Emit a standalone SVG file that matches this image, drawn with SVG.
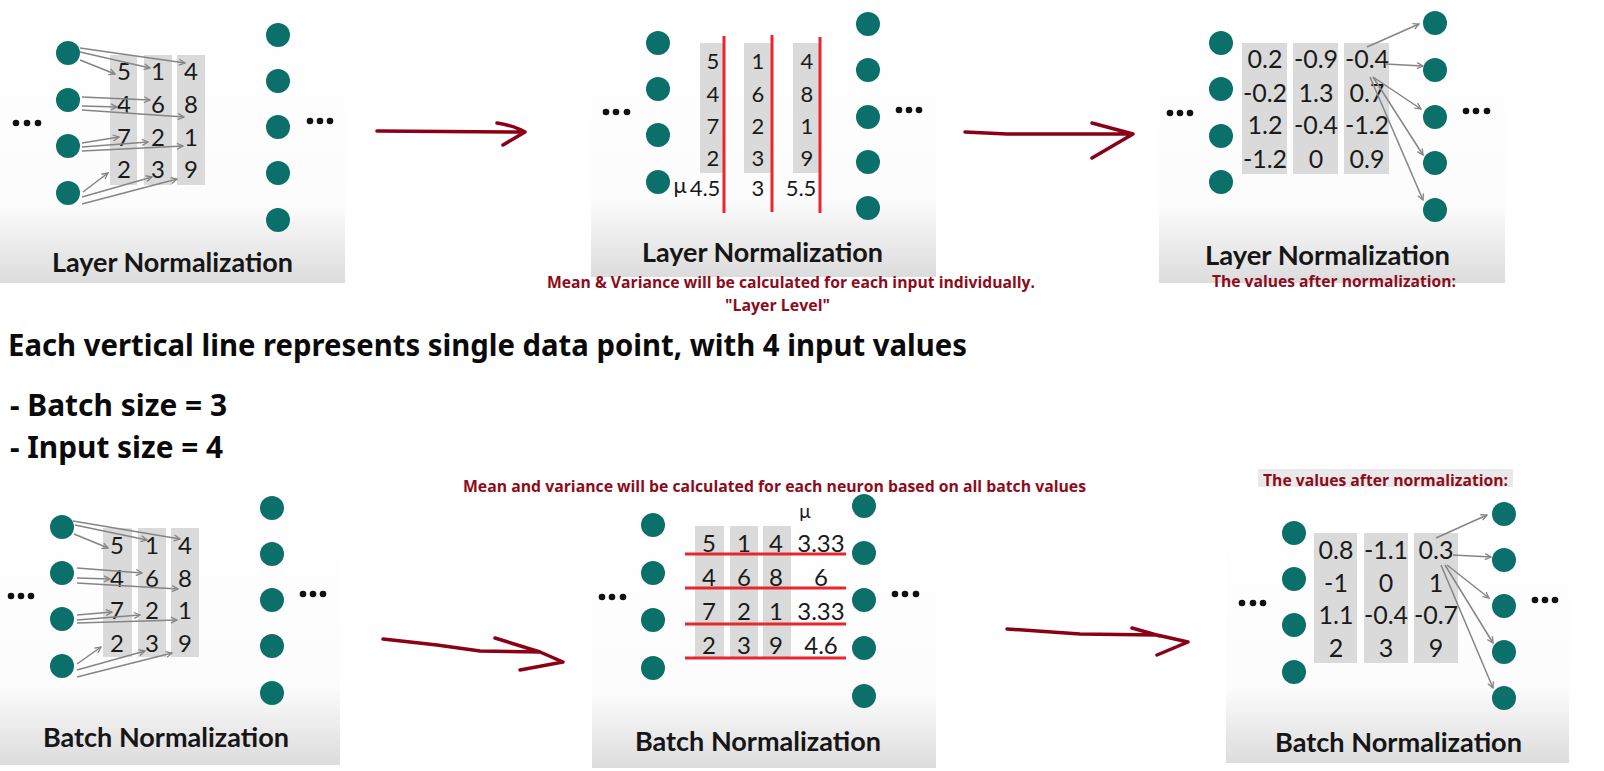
<svg xmlns="http://www.w3.org/2000/svg" width="1604" height="771" viewBox="0 0 1604 771">
<style>
.panel{fill:url(#pg)}
.node{fill:#0b6f6a}
.dot{fill:#111}
.col{fill:#dadada}
.num{font-family:Lato,"Liberation Sans",sans-serif;font-size:24px;fill:#1a1a1a;text-anchor:middle}
.lbl{font-family:Lato,"Liberation Sans",sans-serif;font-weight:bold;font-size:27px;fill:#161616}
.red{font-family:"Open Sans","Liberation Sans",sans-serif;font-weight:bold;font-size:16px;fill:#8c0c1c}
.blk{font-family:"Noto Sans","Liberation Sans",sans-serif;font-weight:bold;font-size:30px;fill:#0a0a0a}
.conn{stroke:#858585;stroke-width:1.5;fill:none;marker-end:url(#ah)}
.hand{stroke:#8b0016;stroke-width:3.5;fill:none;stroke-linecap:round;stroke-linejoin:round}
.rl{stroke:#e8262b;stroke-width:3}
</style>
<defs>
<linearGradient id="pg" x1="0" y1="0" x2="0" y2="1">
<stop offset="0" stop-color="#ffffff"/>
<stop offset="0.72" stop-color="#fcfcfc"/>
<stop offset="1" stop-color="#dcdcdc"/>
</linearGradient>
<marker id="ah" markerWidth="8" markerHeight="8" refX="7" refY="4" orient="auto" markerUnits="userSpaceOnUse">
<path d="M1,1 L7,4 L1,7" fill="none" stroke="#858585" stroke-width="1.3"/>
</marker>
</defs>
<rect width="1604" height="771" fill="#ffffff"/>

<!-- Panel 1: Layer Normalization input -->
<g id="panel-layer-1">
<rect class="panel" x="0" y="0" width="345" height="283"/>
<rect class="col" x="110" y="55" width="27" height="130"/>
<rect class="col" x="144" y="55" width="28" height="130"/>
<rect class="col" x="177" y="55" width="28" height="130"/>
<g class="num">
<text x="124" y="80">5</text><text x="124" y="113">4</text><text x="124" y="146">7</text><text x="124" y="178">2</text>
<text x="158" y="80">1</text><text x="158" y="113">6</text><text x="158" y="146">2</text><text x="158" y="178">3</text>
<text x="191" y="80">4</text><text x="191" y="113">8</text><text x="191" y="146">1</text><text x="191" y="178">9</text>
</g>
<circle class="node" cx="68" cy="53" r="12"/><circle class="node" cx="68" cy="100" r="12"/><circle class="node" cx="68" cy="146" r="12"/><circle class="node" cx="68" cy="193" r="12"/>
<circle class="node" cx="278" cy="35" r="12"/><circle class="node" cx="278" cy="81" r="12"/><circle class="node" cx="278" cy="127" r="12"/><circle class="node" cx="278" cy="173" r="12"/><circle class="node" cx="278" cy="220" r="12"/>
<circle class="dot" cx="16" cy="123" r="3.3"/><circle class="dot" cx="27" cy="123" r="3.3"/><circle class="dot" cx="38" cy="123" r="3.3"/>
<circle class="dot" cx="310" cy="121" r="3.3"/><circle class="dot" cx="320" cy="121" r="3.3"/><circle class="dot" cx="330" cy="121" r="3.3"/>
<text class="lbl" x="52" y="272" textLength="241" lengthAdjust="spacingAndGlyphs">Layer Normalization</text>
</g>

<!-- Panel 2: Layer Normalization means -->
<g id="panel-layer-2">
<rect class="panel" x="591" y="0" width="345" height="277"/>
<rect class="col" x="700" y="43" width="24" height="130"/>
<rect class="col" x="744" y="43" width="27" height="130"/>
<rect class="col" x="793" y="43" width="26" height="130"/>
<g class="num" style="font-size:22px">
<text x="713" y="69">5</text><text x="713" y="102">4</text><text x="713" y="134">7</text><text x="713" y="166">2</text>
<text x="758" y="69">1</text><text x="758" y="102">6</text><text x="758" y="134">2</text><text x="758" y="166">3</text>
<text x="807" y="69">4</text><text x="807" y="102">8</text><text x="807" y="134">1</text><text x="807" y="166">9</text>
<text x="680" y="193">μ</text><text x="705" y="196">4.5</text><text x="758" y="196">3</text><text x="801" y="196">5.5</text>
</g>
<line class="rl" x1="724" y1="36" x2="724" y2="213"/>
<line class="rl" x1="772" y1="35" x2="772" y2="212"/>
<line class="rl" x1="820" y1="37" x2="820" y2="213"/>
<circle class="node" cx="658" cy="43" r="12"/><circle class="node" cx="658" cy="89" r="12"/><circle class="node" cx="658" cy="135" r="12"/><circle class="node" cx="658" cy="182" r="12"/>
<circle class="node" cx="868" cy="24" r="12"/><circle class="node" cx="868" cy="70" r="12"/><circle class="node" cx="868" cy="117" r="12"/><circle class="node" cx="868" cy="162" r="12"/><circle class="node" cx="868" cy="208" r="12"/>
<circle class="dot" cx="606" cy="112" r="3.3"/><circle class="dot" cx="616" cy="112" r="3.3"/><circle class="dot" cx="627" cy="112" r="3.3"/>
<circle class="dot" cx="899" cy="110" r="3.3"/><circle class="dot" cx="909" cy="110" r="3.3"/><circle class="dot" cx="919" cy="110" r="3.3"/>
<text class="lbl" x="642" y="262" textLength="241" lengthAdjust="spacingAndGlyphs">Layer Normalization</text>
<text class="red" x="547" y="288" textLength="488" lengthAdjust="spacingAndGlyphs">Mean &amp; Variance will be calculated for each input individually.</text>
<text class="red" x="725" y="311" textLength="105" lengthAdjust="spacingAndGlyphs">"Layer Level"</text>
</g>

<!-- Panel 3: Layer Normalization output -->
<g id="panel-layer-3">
<rect class="panel" x="1159" y="0" width="346" height="283"/>
<rect class="col" x="1242" y="43" width="45" height="131"/>
<rect class="col" x="1293" y="43" width="45" height="131"/>
<rect class="col" x="1344" y="43" width="45" height="131"/>
<g class="num" style="font-size:25px">
<text x="1265" y="68">0.2</text><text x="1265" y="102">-0.2</text><text x="1265" y="134">1.2</text><text x="1265" y="168">-1.2</text>
<text x="1316" y="68">-0.9</text><text x="1316" y="102">1.3</text><text x="1316" y="134">-0.4</text><text x="1316" y="168">0</text>
<text x="1367" y="68">-0.4</text><text x="1367" y="102">0.7</text><text x="1367" y="134">-1.2</text><text x="1367" y="168">0.9</text>
</g>
<circle class="node" cx="1221" cy="43" r="12"/><circle class="node" cx="1221" cy="89" r="12"/><circle class="node" cx="1221" cy="136" r="12"/><circle class="node" cx="1221" cy="182" r="12"/>
<circle class="node" cx="1435" cy="23" r="12"/><circle class="node" cx="1435" cy="70" r="12"/><circle class="node" cx="1435" cy="117" r="12"/><circle class="node" cx="1435" cy="163" r="12"/><circle class="node" cx="1435" cy="210" r="12"/>
<circle class="dot" cx="1170" cy="113" r="3.3"/><circle class="dot" cx="1180" cy="113" r="3.3"/><circle class="dot" cx="1190" cy="113" r="3.3"/>
<circle class="dot" cx="1466" cy="111" r="3.3"/><circle class="dot" cx="1476" cy="111" r="3.3"/><circle class="dot" cx="1487" cy="111" r="3.3"/>
<text class="lbl" x="1205" y="265" textLength="245" lengthAdjust="spacingAndGlyphs">Layer Normalization</text>
<text class="red" x="1212" y="287" textLength="244" lengthAdjust="spacingAndGlyphs">The values after normalization:</text>
</g>

<!-- Middle explanation -->
<g id="explanation">
<text class="blk" x="8" y="356" textLength="959" lengthAdjust="spacingAndGlyphs">Each vertical line represents single data point, with 4 input values</text>
<text class="blk" x="10" y="416" textLength="217" lengthAdjust="spacingAndGlyphs">- Batch size = 3</text>
<text class="blk" x="10" y="458" textLength="213" lengthAdjust="spacingAndGlyphs">- Input size = 4</text>
</g>

<!-- Panel 5: Batch Normalization input -->
<g id="panel-batch-1">
<rect class="panel" x="0" y="480" width="340" height="285"/>
<rect class="col" x="103" y="528" width="29" height="129"/>
<rect class="col" x="138" y="528" width="28" height="129"/>
<rect class="col" x="171" y="528" width="28" height="129"/>
<g class="num">
<text x="117" y="554">5</text><text x="117" y="587">4</text><text x="117" y="619">7</text><text x="117" y="652">2</text>
<text x="152" y="554">1</text><text x="152" y="587">6</text><text x="152" y="619">2</text><text x="152" y="652">3</text>
<text x="185" y="554">4</text><text x="185" y="587">8</text><text x="185" y="619">1</text><text x="185" y="652">9</text>
</g>
<circle class="node" cx="62" cy="527" r="12"/><circle class="node" cx="62" cy="573" r="12"/><circle class="node" cx="62" cy="619" r="12"/><circle class="node" cx="62" cy="666" r="12"/>
<circle class="node" cx="272" cy="508" r="12"/><circle class="node" cx="272" cy="554" r="12"/><circle class="node" cx="272" cy="600" r="12"/><circle class="node" cx="272" cy="646" r="12"/><circle class="node" cx="272" cy="693" r="12"/>
<circle class="dot" cx="11" cy="596" r="3.3"/><circle class="dot" cx="21" cy="596" r="3.3"/><circle class="dot" cx="31" cy="596" r="3.3"/>
<circle class="dot" cx="303" cy="594" r="3.3"/><circle class="dot" cx="313" cy="594" r="3.3"/><circle class="dot" cx="323" cy="594" r="3.3"/>
<text class="lbl" x="43" y="747" textLength="246" lengthAdjust="spacingAndGlyphs">Batch Normalization</text>
</g>

<!-- Panel 4: Batch Normalization means -->
<g id="panel-batch-2">
<rect class="panel" x="592" y="500" width="344" height="268"/>
<rect class="col" x="695" y="526" width="29" height="132"/>
<rect class="col" x="730" y="526" width="28" height="132"/>
<rect class="col" x="763" y="526" width="28" height="132"/>
<g class="num" style="font-size:24px">
<text x="709" y="552">5</text><text x="744" y="552">1</text><text x="776" y="552">4</text><text x="821" y="552">3.33</text>
<text x="709" y="586">4</text><text x="744" y="586">6</text><text x="776" y="586">8</text><text x="821" y="586">6</text>
<text x="709" y="620">7</text><text x="744" y="620">2</text><text x="776" y="620">1</text><text x="821" y="620">3.33</text>
<text x="709" y="654">2</text><text x="744" y="654">3</text><text x="776" y="654">9</text><text x="821" y="654">4.6</text>
</g>
<text class="num" x="805" y="518" style="font-size:19px">μ</text>
<line class="rl" x1="685" y1="554" x2="846" y2="554"/>
<line class="rl" x1="685" y1="588" x2="846" y2="588"/>
<line class="rl" x1="685" y1="624" x2="846" y2="624"/>
<line class="rl" x1="685" y1="658" x2="846" y2="658"/>
<circle class="node" cx="653" cy="525" r="12"/><circle class="node" cx="653" cy="573" r="12"/><circle class="node" cx="653" cy="620" r="12"/><circle class="node" cx="653" cy="668" r="12"/>
<circle class="node" cx="864" cy="506" r="12"/><circle class="node" cx="864" cy="553" r="12"/><circle class="node" cx="864" cy="600" r="12"/><circle class="node" cx="864" cy="648" r="12"/><circle class="node" cx="864" cy="696" r="12"/>
<circle class="dot" cx="602" cy="597" r="3.3"/><circle class="dot" cx="612" cy="597" r="3.3"/><circle class="dot" cx="623" cy="597" r="3.3"/>
<circle class="dot" cx="895" cy="594" r="3.3"/><circle class="dot" cx="905" cy="594" r="3.3"/><circle class="dot" cx="916" cy="594" r="3.3"/>
<text class="lbl" x="635" y="751" textLength="246" lengthAdjust="spacingAndGlyphs">Batch Normalization</text>
<text class="red" x="463" y="492" textLength="623" lengthAdjust="spacingAndGlyphs">Mean and variance will be calculated for each neuron based on all batch values</text>
</g>

<!-- Panel 6: Batch Normalization output -->
<g id="panel-batch-3">
<rect class="panel" x="1226" y="493" width="343" height="270"/>
<rect x="1258" y="469" width="255" height="18" fill="#e9e9e9"/>
<text class="red" x="1263" y="486" textLength="245" lengthAdjust="spacingAndGlyphs">The values after normalization:</text>
<rect class="col" x="1314" y="533" width="43" height="130"/>
<rect class="col" x="1364" y="533" width="44" height="130"/>
<rect class="col" x="1414" y="533" width="44" height="130"/>
<g class="num" style="font-size:25px">
<text x="1336" y="559">0.8</text><text x="1336" y="592">-1</text><text x="1336" y="624">1.1</text><text x="1336" y="657">2</text>
<text x="1386" y="559">-1.1</text><text x="1386" y="592">0</text><text x="1386" y="624">-0.4</text><text x="1386" y="657">3</text>
<text x="1436" y="559">0.3</text><text x="1436" y="592">1</text><text x="1436" y="624">-0.7</text><text x="1436" y="657">9</text>
</g>
<circle class="node" cx="1294" cy="533" r="12"/><circle class="node" cx="1294" cy="579" r="12"/><circle class="node" cx="1294" cy="625" r="12"/><circle class="node" cx="1294" cy="672" r="12"/>
<circle class="node" cx="1504" cy="514" r="12"/><circle class="node" cx="1504" cy="560" r="12"/><circle class="node" cx="1504" cy="606" r="12"/><circle class="node" cx="1504" cy="652" r="12"/><circle class="node" cx="1504" cy="698" r="12"/>
<circle class="dot" cx="1242" cy="603" r="3.3"/><circle class="dot" cx="1253" cy="603" r="3.3"/><circle class="dot" cx="1263" cy="603" r="3.3"/>
<circle class="dot" cx="1535" cy="600" r="3.3"/><circle class="dot" cx="1545" cy="600" r="3.3"/><circle class="dot" cx="1555" cy="600" r="3.3"/>
<text class="lbl" x="1275" y="752" textLength="247" lengthAdjust="spacingAndGlyphs">Batch Normalization</text>
</g>

<!-- Connectors -->
<g id="connectors">
<g id="conn-layer-in">
<line class="conn" x1="80" y1="48" x2="185" y2="63"/>
<line class="conn" x1="80" y1="52" x2="150" y2="68"/>
<line class="conn" x1="80" y1="60" x2="115" y2="74"/>
<line class="conn" x1="82" y1="97" x2="150" y2="100"/>
<line class="conn" x1="82" y1="106" x2="117" y2="107"/>
<line class="conn" x1="82" y1="110" x2="184" y2="117"/>
<line class="conn" x1="82" y1="143" x2="119" y2="137"/>
<line class="conn" x1="82" y1="147" x2="148" y2="142"/>
<line class="conn" x1="82" y1="151" x2="183" y2="146"/>
<line class="conn" x1="83" y1="192" x2="108" y2="173"/>
<line class="conn" x1="82" y1="197" x2="152" y2="177"/>
<line class="conn" x1="82" y1="204" x2="177" y2="179"/>
</g>
<g id="conn-layer-out">
<line class="conn" x1="1367" y1="47" x2="1419" y2="24"/>
<line class="conn" x1="1385" y1="64" x2="1423" y2="66"/>
<line class="conn" x1="1373" y1="77" x2="1421" y2="109"/>
<line class="conn" x1="1373" y1="77" x2="1423" y2="155"/>
<line class="conn" x1="1370" y1="77" x2="1423" y2="200"/>
</g>
<g id="conn-batch-in">
<line class="conn" x1="73" y1="521" x2="180" y2="539"/>
<line class="conn" x1="75" y1="525" x2="147" y2="540"/>
<line class="conn" x1="74" y1="534" x2="108" y2="548"/>
<line class="conn" x1="77" y1="568" x2="142" y2="573"/>
<line class="conn" x1="77" y1="578" x2="110" y2="579"/>
<line class="conn" x1="77" y1="583" x2="178" y2="589"/>
<line class="conn" x1="77" y1="615" x2="112" y2="612"/>
<line class="conn" x1="77" y1="620" x2="140" y2="615"/>
<line class="conn" x1="77" y1="623" x2="177" y2="620"/>
<line class="conn" x1="77" y1="664" x2="101" y2="647"/>
<line class="conn" x1="77" y1="670" x2="145" y2="651"/>
<line class="conn" x1="77" y1="677" x2="172" y2="653"/>
</g>
<g id="conn-batch-out">
<line class="conn" x1="1436" y1="538" x2="1487" y2="515"/>
<line class="conn" x1="1453" y1="555" x2="1491" y2="557"/>
<line class="conn" x1="1447" y1="565" x2="1489" y2="598"/>
<line class="conn" x1="1445" y1="565" x2="1493" y2="643"/>
<line class="conn" x1="1441" y1="565" x2="1493" y2="688"/>
</g>
<g id="hand-arrows">
<path class="hand" d="M377,131 L525,132 M497,123 Q515,126 525,132 L503,145"/>
<path class="hand" d="M965,132 L1007,134 L1133,134 M1092,123 L1133,134 L1092,158"/>
<path class="hand" d="M383,639 L437,645 L480,651 L540,652 L563,662 L520,670 M495,638 L540,652"/>
<path class="hand" d="M1007,629 L1080,634 L1157,635 L1188,642 L1157,655 M1132,628 L1160,636"/>
</g>
</g>
</svg>
